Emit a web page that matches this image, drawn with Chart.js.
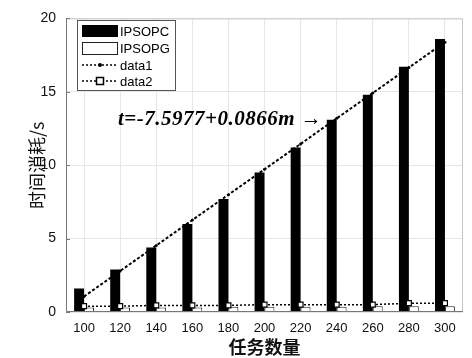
<!DOCTYPE html>
<html>
<head>
<meta charset="utf-8">
<script src="https://cdn.jsdelivr.net/npm/chart.js@4.4.0/dist/chart.umd.min.js"></script>
<style>
  body { margin: 0; background: #fff; }
  #box { position: relative; width: 472px; height: 358px; }
</style>
</head>
<body>
<div id="box"><canvas id="myChart"></canvas></div>
<script>
// task counts on the x axis
const labels = ['100', '120', '140', '160', '180', '200', '220', '240', '260', '280', '300'];

// time used (s)
const ipsopc = [1.6, 2.9, 4.4, 6.0, 7.7, 9.5, 11.2, 13.1, 14.8, 16.7, 18.6];
const ipsopg = [0.3, 0.3, 0.3, 0.3, 0.35, 0.35, 0.35, 0.35, 0.4, 0.4, 0.4];
// fitted line t=-7.5977+0.0866m
const data1 = [1.06, 2.79, 4.53, 6.26, 7.99, 9.72, 11.45, 13.19, 14.92, 16.65, 18.38];
const data2 = [0.4, 0.4, 0.45, 0.45, 0.45, 0.5, 0.5, 0.5, 0.5, 0.6, 0.6];

const yTicks = [0, 5, 10, 15, 20];

// legend box, border and the formula text
const extras = {
  id: 'extras',
  afterDraw(chart) {
    const ctx = chart.ctx;
    const a = chart.chartArea;
    ctx.save();

    // box round the plot
    ctx.lineWidth = 1;
    ctx.strokeStyle = '#c8c8c8';
    ctx.beginPath();
    ctx.moveTo(a.left, a.top + 0.5);
    ctx.lineTo(a.right - 0.5, a.top + 0.5);
    ctx.lineTo(a.right - 0.5, a.bottom);
    ctx.stroke();
    ctx.strokeStyle = '#777';
    ctx.beginPath();
    ctx.moveTo(a.left + 0.5, a.top);
    ctx.lineTo(a.left + 0.5, a.bottom - 0.5);
    ctx.lineTo(a.right, a.bottom - 0.5);
    ctx.stroke();
    // small ticks on the y axis
    const ys = chart.scales.y;
    yTicks.forEach(function (v) {
      const py = Math.round(ys.getPixelForValue(v)) + 0.5;
      ctx.beginPath();
      ctx.moveTo(a.left, py);
      ctx.lineTo(a.left + 4, py);
      ctx.stroke();
    });

    // formula
    ctx.fillStyle = '#000';
    ctx.font = 'bold italic 21px "Liberation Serif"';
    ctx.letterSpacing = '0.5px';
    ctx.textBaseline = 'middle';
    ctx.textAlign = 'left';
    ctx.fillText('t=-7.5977+0.0866m \u2192', a.left + 52, a.top + 101);
    ctx.letterSpacing = '0px';

    // legend
    const lx = 77, ly = 20, lw = 98, lh = 70;
    ctx.fillStyle = '#fff';
    ctx.fillRect(lx, ly, lw, lh);
    ctx.strokeStyle = '#555';
    ctx.strokeRect(lx + 0.5, ly + 0.5, lw, lh);

    ctx.fillStyle = '#000';
    ctx.fillRect(82, 25, 36, 12);
    ctx.fillStyle = '#fff';
    ctx.strokeStyle = '#222';
    ctx.strokeRect(82.5, 42.5, 35, 12);

    ctx.strokeStyle = '#000';
    ctx.lineWidth = 1.5;
    ctx.setLineDash([2, 2]);
    ctx.beginPath();
    ctx.moveTo(82, 65);
    ctx.lineTo(118, 65);
    ctx.moveTo(82, 81);
    ctx.lineTo(118, 81);
    ctx.stroke();
    ctx.setLineDash([]);
    ctx.fillStyle = '#000';
    ctx.beginPath();
    ctx.arc(100, 65, 2, 0, Math.PI * 2);
    ctx.fill();
    ctx.fillStyle = '#fff';
    ctx.fillRect(96, 77, 8, 8);
    ctx.strokeRect(96.5, 77.5, 7, 7);

    ctx.fillStyle = '#000';
    ctx.font = '13px "Liberation Sans"';
    ctx.fillText('IPSOPC', 120, 32);
    ctx.fillText('IPSOPG', 120, 49);
    ctx.fillText('data1', 120, 66);
    ctx.fillText('data2', 120, 82);
    ctx.restore();
  }
};

const data = {
  labels: labels,
  datasets: [
    {
      type: 'line',
      label: 'data1',
      data: data1,
      borderColor: '#000',
      borderWidth: 2,
      borderDash: [3, 2],
      pointRadius: 1.5,
      pointBackgroundColor: '#000',
      pointBorderWidth: 0,
      order: 0
    },
    {
      type: 'line',
      label: 'data2',
      data: data2,
      borderColor: '#000',
      borderWidth: 1.5,
      borderDash: [2, 2],
      pointStyle: 'rect',
      pointRadius: 3.5,
      pointBackgroundColor: '#fff',
      pointBorderColor: '#000',
      pointBorderWidth: 1.2,
      order: 0
    },
    {
      label: 'IPSOPC',
      data: ipsopc,
      backgroundColor: '#000',
      borderWidth: 0,
      order: 1
    },
    {
      label: 'IPSOPG',
      data: ipsopg,
      backgroundColor: '#fff',
      borderColor: '#222',
      borderWidth: 1,
      order: 1
    }
  ]
};

const config = {
  type: 'bar',
  data: data,
  plugins: [extras],
  options: {
    responsive: true,
    maintainAspectRatio: false,
    animation: false,
    layout: { padding: { top: 12, right: 9, left: 22, bottom: 0 } },
    datasets: {
      bar: { categoryPercentage: 0.55, barPercentage: 1 }
    },
    plugins: {
      legend: { display: false },
      tooltip: { enabled: false }
    },
    scales: {
      x: {
        offset: true,
        grid: { color: '#e6e6e6', offset: false, drawTicks: false },
        border: { display: false },
        ticks: {
          color: '#111',
          font: { family: 'Liberation Sans', size: 13 },
          padding: 9,
          maxRotation: 0
        },
        title: {
          display: true,
          text: '任务数量',
          color: '#111',
          font: { family: 'Noto Sans CJK SC', size: 18, weight: 'bold' },
          padding: { top: 0, bottom: 0 }
        },
        afterFit: function (s) { s.height = 46; }
      },
      y: {
        min: 0,
        max: 20,
        afterBuildTicks: function (s) { s.ticks = yTicks.map(function (v) { return { value: v }; }); },
        grid: { color: '#e6e6e6', drawTicks: false },
        border: { display: false },
        ticks: {
          color: '#111',
          font: { family: 'Liberation Sans', size: 14 },
          padding: 10
        },
        title: {
          display: true,
          text: '时间消耗/s',
          color: '#111',
          font: { family: 'Noto Sans CJK SC', size: 18 },
          padding: { bottom: 0 }
        },
        afterFit: function (s) { s.width = 44; }
      }
    }
  }
};

const myChart = new Chart(document.getElementById('myChart'), config);
</script>
</body>
</html>
